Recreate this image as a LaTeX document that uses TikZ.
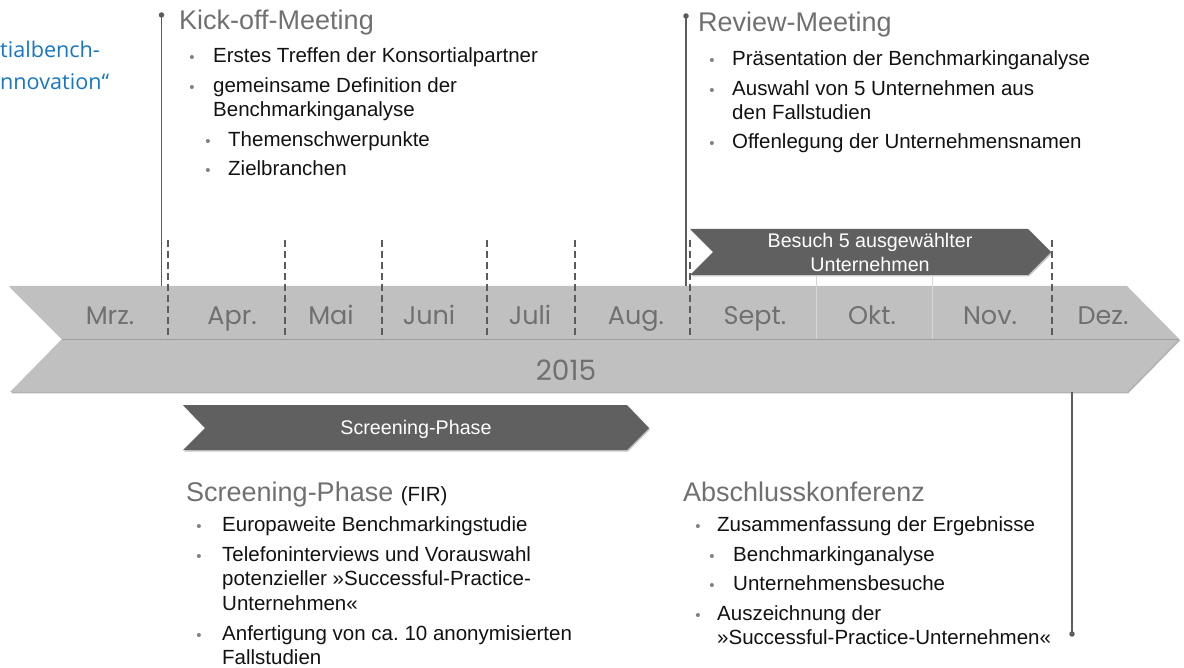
\documentclass[tikz,border=0pt]{standalone}
\usepackage{fontspec}
\setmainfont{Liberation Sans}
\newfontfamily\monthfont{Poppins}
\newfontfamily\bluefont{Open Sans}
\frenchspacing

\definecolor{band}{RGB}{192,192,192}
\definecolor{bandline}{RGB}{158,158,158}
\definecolor{phase}{RGB}{96,96,96}
\definecolor{marker}{RGB}{92,92,92}
\definecolor{headgray}{RGB}{112,112,112}
\definecolor{monthgray}{RGB}{112,112,112}
\definecolor{bulletgray}{RGB}{130,130,130}
\definecolor{linkblue}{RGB}{22,118,196}
\definecolor{ink}{RGB}{18,18,18}

\tikzset{
  heading/.style={anchor=base west, inner sep=0pt, text=headgray, font=\fontsize{27}{30}\selectfont},
  item/.style={anchor=base west, inner sep=0pt, text=ink, font=\fontsize{20.5}{24}\selectfont},
  bullet/.style={anchor=center, inner sep=0pt, text=bulletgray, font=\fontsize{15}{15}\selectfont},
  month/.style={anchor=base, inner sep=0pt, text=monthgray, font=\monthfont\fontsize{25.5}{27}\selectfont},
  phasetext/.style={anchor=base, inner sep=0pt, text=white, font=\fontsize{19.7}{22}\selectfont},
  bluetext/.style={anchor=base west, inner sep=0pt, text=linkblue, font=\bluefont\fontsize{21.6}{26}\selectfont},
  monthsep/.style={draw=marker, line width=1.4pt, dash pattern=on 7pt off 4pt},
  lightsep/.style={draw=black!16, line width=0.6pt},
  milestone/.style={draw=marker, line width=1.8pt},
  pin/.style={circle, fill=marker, inner sep=0pt, minimum size=5.5pt},
  phasearrow/.style={fill=phase},
  phaseshadow/.style={fill=black!22},
}

\begin{document}
\begin{tikzpicture}[x=1pt, y=-1pt]
\useasboundingbox (0,0) rectangle (1184,668);

% ---- main timeline band ----
\fill[black!30] (10,287.5) -- (1128,287.5) -- (1180,340.5) -- (1128,393.5) -- (11,393.5) -- (63,340.5) -- cycle;
\fill[band] (9,286) -- (1127,286) -- (1179,339) -- (1127,392) -- (10,392) -- (62,339) -- cycle;
\coordinate (notch) at (62,339);
\coordinate (tip) at (1179,339);
\draw[bandline, line width=0.9pt] (notch) -- (tip);

% ---- phase arrows ----
\fill[phaseshadow] (691,230.5) -- (1029,230.5) -- (1052,253.5) -- (1029,276.5) -- (691,276.5) -- (714,253.5) -- cycle;
\fill[phasearrow] (690,229) -- (1028,229) -- (1051,252) -- (1028,275) -- (690,275) -- (713,252) -- cycle;
\fill[phaseshadow] (184,406.5) -- (628,406.5) -- (650,429.5) -- (628,451.5) -- (184,451.5) -- (206,429.5) -- cycle;
\fill[phasearrow] (183,405) -- (627,405) -- (649,428) -- (627,450) -- (183,450) -- (205,428) -- cycle;

\node[phasetext] (visit1) at (870,248) {Besuch 5 ausgewählter};
\node[phasetext] (visit2) at (870,272) {Unternehmen};
\node[phasetext] (screen) at (416,435) {Screening-Phase};

% ---- month separators ----
\foreach \mx/\nm in {168/a,285/b,382/c,487/d,575/e,690/f,1052/g}{
  \coordinate (s\nm top) at (\mx,240);
  \coordinate (s\nm bot) at (\mx,339);
  \draw[monthsep] (s\nm top) -- (s\nm bot);
}
\foreach \mx/\nm in {816/h,932/i}{
  \coordinate (s\nm top) at (\mx,276);
  \coordinate (s\nm bot) at (\mx,339);
  \draw[lightsep] (s\nm top) -- (s\nm bot);
}

% ---- month labels and year ----
\node[month] (mrz) at (110,325) {Mrz.};
\node[month] (apr) at (232,325) {Apr.};
\node[month] (mai) at (331,325) {Mai};
\node[month] (jun) at (429,325) {Juni};
\node[month] (jul) at (530,325) {Juli};
\node[month] (aug) at (636,325) {Aug.};
\node[month] (sep) at (755,325) {Sept.};
\node[month] (okt) at (872,325) {Okt.};
\node[month] (nov) at (990,325) {Nov.};
\node[month] (dez) at (1103,325) {Dez.};
\node[month, font=\monthfont\fontsize{28}{30}\selectfont] (year) at (566,381) {2015};

% ---- milestones ----
\node[pin] (kickpin) at (161.5,15) {};
\coordinate (kickfoot) at (161.5,286);
\draw[milestone] (kickpin.center) -- (kickfoot);

\node[pin] (reviewpin) at (686,16) {};
\coordinate (reviewfoot) at (686,286);
\draw[milestone] (reviewpin.center) -- (reviewfoot);

\node[pin] (finalpin) at (1072,634) {};
\coordinate (finalfoot) at (1072,392);
\draw[milestone] (finalfoot) -- (finalpin.center);

% ---- truncated title at the left edge ----
\node[bluetext] (title1) at (0,57.3) {tialbench-};
\node[bluetext] (title2) at (0,89.3) {nnovation“};

% ---- Kick-off-Meeting ----
\node[heading] (kick) at (179,30) {Kick-off-Meeting};
\node[bullet] at (192,59) {•};
\node[item] (k1) at (213,62.5) {Erstes Treffen der Konsortialpartner};
\node[bullet] at (192,89) {•};
\node[item] (k2) at (213,92.5) {gemeinsame Definition der};
\node[item] (k2b) at (213,117) {Benchmarkinganalyse};
\node[bullet] at (208,143) {•};
\node[item] (k3) at (228,146.5) {Themenschwerpunkte};
\node[bullet] at (208,172) {•};
\node[item] (k4) at (228,175.5) {Zielbranchen};

% ---- Review-Meeting ----
\node[heading] (review) at (698,32) {Review-Meeting};
\node[bullet] at (712,62) {•};
\node[item] (r1) at (732,65.5) {Präsentation der Benchmarkinganalyse};
\node[bullet] at (712,92) {•};
\node[item] (r2) at (732,95.5) {Auswahl von 5 Unternehmen aus};
\node[item] (r2b) at (732,119.5) {den Fallstudien};
\node[bullet] at (712,145) {•};
\node[item] (r3) at (732,148.5) {Offenlegung der Unternehmensnamen};

% ---- Screening-Phase ----
\node[heading] (screenhead) at (186,501) {Screening-Phase \fontsize{20.5}{24}\selectfont\color{ink}(FIR)};
\node[bullet] at (199,528) {•};
\node[item] (s1) at (222,531.5) {Europaweite Benchmarkingstudie};
\node[bullet] at (199,558) {•};
\node[item] (s2) at (222,561.5) {Telefoninterviews und Vorauswahl};
\node[item] (s2b) at (222,585.5) {potenzieller »Successful-Practice-};
\node[item] (s2c) at (222,610) {Unternehmen«};
\node[bullet] at (199,636.5) {•};
\node[item] (s3) at (222,640) {Anfertigung von ca. 10 anonymisierten};
\node[item] (s3b) at (222,664.5) {Fallstudien};

% ---- Abschlusskonferenz ----
\node[heading] (final) at (683,501) {Abschlusskonferenz};
\node[bullet] at (698,528) {•};
\node[item] (a1) at (717,531.5) {Zusammenfassung der Ergebnisse};
\node[bullet] at (712,558) {•};
\node[item] (a2) at (733,561.5) {Benchmarkinganalyse};
\node[bullet] at (712,587) {•};
\node[item] (a3) at (733,590.5) {Unternehmensbesuche};
\node[bullet] at (698,617) {•};
\node[item] (a4) at (717,620.5) {Auszeichnung der};
\node[item] (a4b) at (717,644.5) {»Successful-Practice-Unternehmen«};
\end{tikzpicture}
\end{document}
